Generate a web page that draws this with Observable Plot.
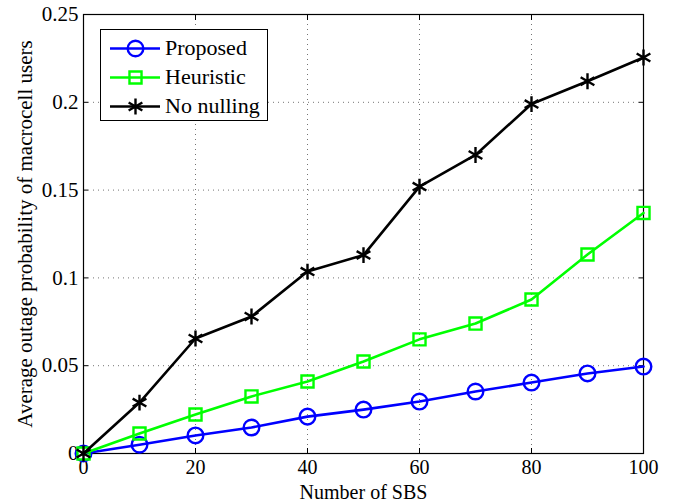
<!DOCTYPE html>
<html>
<head>
<meta charset="utf-8">
<script src="https://cdn.jsdelivr.net/npm/d3@7"></script>
<script src="https://cdn.jsdelivr.net/npm/@observablehq/plot@0.6"></script>
<style>
  html, body { margin: 0; padding: 0; background: #fff; }
  #wrap { position: relative; width: 683px; height: 502px; font-family: "Liberation Serif", "Times New Roman", serif; }
  #wrap svg text { font-family: "Liberation Serif", "Times New Roman", serif; }
  #legend { position: absolute; left: 100px; top: 29px; width: 166px; height: 90px; border: 1px solid #000; background: #fff; }
  .row { position: absolute; left: 0; height: 28px; display: flex; align-items: center; font-size: 22px; color: #000; }
  .row svg { margin-left: 9px; margin-right: 5px; }
</style>
</head>
<body>
<div id="wrap"></div>
<script>
const xValues = [0, 10, 20, 30, 40, 50, 60, 70, 80, 90, 100];
const proposed = [0, 0.005, 0.0103, 0.0148, 0.021, 0.025, 0.0296, 0.0353, 0.0404, 0.0456, 0.0495];
const heuristic = [0, 0.0114, 0.0222, 0.0325, 0.041, 0.0524, 0.065, 0.074, 0.0877, 0.1133, 0.137];
const noNulling = [0, 0.029, 0.0655, 0.078, 0.1036, 0.113, 0.152, 0.170, 0.199, 0.212, 0.2255];
const seriesNames = ["Proposed", "Heuristic", "No nulling"];
const seriesColors = ["#0000ff", "#00ff00", "#000000"];
const seriesSymbols = ["circle", "square", "asterisk"];
const seriesR = [7.8, 6.8, 7.5];
const xTicks = [0, 20, 40, 60, 80, 100];
const yTicks = [0, 0.05, 0.1, 0.15, 0.2, 0.25];
const yTickLabels = ["0", "0.05", "0.1", "0.15", "0.2", "0.25"];

const seriesValues = [proposed, heuristic, noNulling];
const tables = seriesValues.map((vals, i) => xValues.map((x, j) => ({x, y: vals[j], series: seriesNames[i]})));

const marks = [
  Plot.gridX(xTicks, {stroke: "#000", strokeOpacity: 0.55, strokeDasharray: "1,4"}),
  Plot.gridY(yTicks, {stroke: "#000", strokeOpacity: 0.55, strokeDasharray: "1,4"}),
  Plot.frame({stroke: "#000", strokeWidth: 1.2}),
  // inward tick marks on all four sides
  Plot.axisX(xTicks, {anchor: "bottom", tickSize: 5, dy: -5, text: null, label: null}),
  Plot.axisX(xTicks, {anchor: "top", tickSize: 5, dy: 5, text: null, label: null}),
  Plot.axisY(yTicks, {anchor: "left", tickSize: 5, dx: 5, text: null, label: null}),
  Plot.axisY(yTicks, {anchor: "right", tickSize: 5, dx: -5, text: null, label: null}),
  // tick labels and titles
  Plot.axisX(xTicks, {anchor: "bottom", tickSize: 0, tickPadding: 6, fontSize: 20, label: null}),
  Plot.axisX({anchor: "bottom", ticks: [], fontSize: 20, label: "Number of SBS", labelAnchor: "center", labelArrow: "none", labelOffset: 45}),
  Plot.axisY(yTicks, {anchor: "left", tickSize: 0, tickPadding: 5, fontSize: 21, tickFormat: (d, i) => yTickLabels[i], label: "Average outage probability of macrocell users", labelAnchor: "center", labelArrow: "none", labelOffset: 66}),
];
tables.forEach((t, i) => {
  marks.push(Plot.line(t, {x: "x", y: "y", stroke: seriesColors[i], strokeWidth: 2.6}));
  marks.push(Plot.dot(t, {x: "x", y: "y", symbol: () => seriesSymbols[i], r: seriesR[i], stroke: seriesColors[i], strokeWidth: 2.4, fill: "none"}));
});

const chart = Plot.plot({
  width: 683,
  height: 502,
  marginLeft: 83,
  marginRight: 40,
  marginTop: 14,
  marginBottom: 49,
  style: {fontFamily: "'Liberation Serif', 'Times New Roman', serif", fontSize: "21px", color: "#000", background: "#fff"},
  x: {domain: [0, 100]},
  y: {domain: [0, 0.25]},
  symbol: {type: "identity"},
  marks
});
const wrap = document.getElementById("wrap");
wrap.appendChild(chart);

// legend
const legend = document.createElement("div");
legend.id = "legend";
seriesNames.forEach((name, i) => {
  const row = document.createElement("div");
  row.className = "row";
  row.style.top = (4 + i * 29) + "px";
  const sw = Plot.plot({
    width: 50, height: 28, margin: 0,
    x: {domain: [0, 1], axis: null}, y: {domain: [0, 1], axis: null},
    symbol: {type: "identity"},
    marks: [
      Plot.ruleY([0.5], {stroke: seriesColors[i], strokeWidth: 2.6}),
      Plot.dot([{x: 0.5, y: 0.5}], {x: "x", y: "y", symbol: () => seriesSymbols[i], r: seriesR[i], stroke: seriesColors[i], strokeWidth: 2.4, fill: "none"})
    ]
  });
  row.appendChild(sw);
  const label = document.createElement("span");
  label.textContent = name;
  row.appendChild(label);
  legend.appendChild(row);
});
wrap.appendChild(legend);
</script>
</body>
</html>
